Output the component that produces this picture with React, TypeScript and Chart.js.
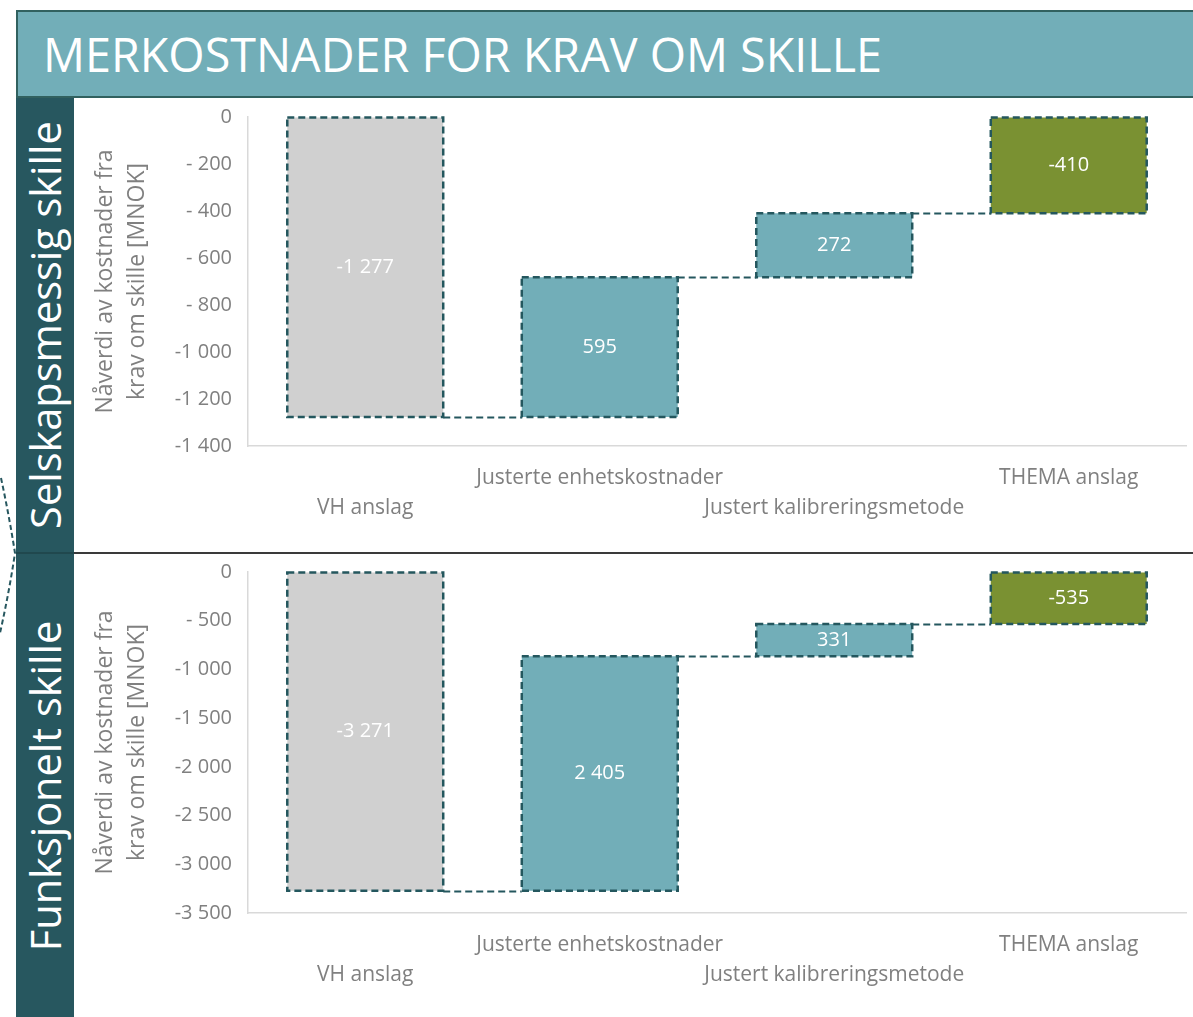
import React, { useEffect, useRef } from "react";
import { Chart, registerables } from "chart.js";

Chart.register(...registerables);

// ---------- data ----------
const titleText = "MERKOSTNADER FOR KRAV OM SKILLE";
const panelLabels = ["Selskapsmessig skille", "Funksjonelt skille"];
const categories = ["VH anslag", "Justerte enhetskostnader", "Justert kalibreringsmetode", "THEMA anslag"];
const yAxisTitle = ["Nåverdi av kostnader fra", "krav om skille [MNOK]"];

// first = start total, middle = changes, last = end total
const selskapValues = [-1277, 595, 272, -410];
const funksjonValues = [-3271, 2405, 331, -535];

const selskapYMin = -1400;
const selskapYStep = 200;
const funksjonYMin = -3500;
const funksjonYStep = 500;

// ---------- styles ----------
const FONT = "'Open Sans', 'DejaVu Sans', sans-serif";
const barColors = ["#D0D0D0", "#72AEB8", "#72AEB8", "#7A9132"];
const outlineColor = "#24575E";
const textGray = "#808080";
const axisLineColor = "#D9D9D9";

function group(n: number): string {
  return String(Math.round(Math.abs(n))).replace(/\B(?=(\d{3})+(?!\d))/g, " ");
}
function fmtValue(v: number): string {
  return (v < 0 ? "-" : "") + group(v);
}
function fmtTick(v: number): string {
  if (v === 0) return "0";
  const a = Math.abs(v);
  return a < 1000 ? "- " + group(a) : "-" + group(a);
}

function buildRanges(values: number[]): { ranges: [number, number][]; levels: number[] } {
  const ranges: [number, number][] = [];
  const levels: number[] = [];
  let running = 0;
  values.forEach((v, i) => {
    if (i === 0) {
      ranges.push([0, v]);
      running = v;
    } else if (i === values.length - 1) {
      ranges.push([v, 0]);
    } else {
      ranges.push([running, running + v]);
      running += v;
    }
    levels.push(running);
  });
  return { ranges, levels };
}

const waterfallPlugin = {
  id: "waterfallDecor",
  afterDatasetsDraw(chart: any) {
    const ctx = chart.ctx;
    const meta = chart.getDatasetMeta(0);
    const yScale = chart.scales.y;
    const values: number[] = chart.options.plugins.waterfallDecor.values;
    const levels: number[] = chart.options.plugins.waterfallDecor.levels;
    const rects = meta.data.map((el: any) => {
      const p = el.getProps(["x", "y", "base", "width"], true);
      return {
        left: p.x - p.width / 2,
        right: p.x + p.width / 2,
        top: Math.min(p.y, p.base),
        bottom: Math.max(p.y, p.base),
        cx: p.x,
      };
    });
    ctx.save();
    ctx.strokeStyle = outlineColor;
    ctx.setLineDash([7, 4]);
    // connectors
    ctx.lineWidth = 2.2;
    for (let i = 0; i < rects.length - 1; i++) {
      const yp = Math.round(yScale.getPixelForValue(levels[i])) + 0.5;
      ctx.beginPath();
      ctx.moveTo(rects[i].right, yp);
      ctx.lineTo(rects[i + 1].left, yp);
      ctx.stroke();
    }
    // outlines
    ctx.lineWidth = 2.5;
    rects.forEach((r: any) => {
      ctx.strokeRect(r.left, r.top, r.right - r.left, r.bottom - r.top);
    });
    ctx.setLineDash([]);
    // labels
    ctx.fillStyle = "#FFFFFF";
    ctx.font = `20px ${FONT}`;
    ctx.textAlign = "center";
    ctx.textBaseline = "middle";
    rects.forEach((r: any, i: number) => {
      ctx.fillText(fmtValue(values[i]), r.cx, (r.top + r.bottom) / 2);
    });
    ctx.restore();
  },
};

function makeConfig(values: number[], yMin: number, yStep: number, padTop: number, xHeight: number): any {
  const { ranges, levels } = buildRanges(values);
  return {
    type: "bar",
    data: {
      labels: categories,
      datasets: [
        {
          data: ranges,
          backgroundColor: barColors,
          borderWidth: 0,
          barPercentage: 0.665,
          categoryPercentage: 1,
        },
      ],
    },
    plugins: [waterfallPlugin],
    options: {
      animation: false,
      responsive: false,
      maintainAspectRatio: false,
      layout: { padding: { left: 0, top: padTop, right: 7, bottom: 0 } },
      plugins: {
        legend: { display: false },
        tooltip: { enabled: false },
        title: { display: false },
        waterfallDecor: { values, levels },
      },
      scales: {
        x: {
          offset: true,
          grid: { display: true, drawOnChartArea: false, drawTicks: false },
          border: { display: true, color: axisLineColor, width: 1.5 },
          ticks: {
            autoSkip: false,
            maxRotation: 0,
            minRotation: 0,
            padding: 17,
            color: textGray,
            font: { family: FONT, size: 21, lineHeight: 1.43 },
            callback: (_v: any, i: number) =>
              i % 2 === 0 ? ["", categories[i]] : [categories[i], ""],
          },
          afterFit: (s: any) => {
            s.height = xHeight;
          },
        },
        y: {
          min: yMin,
          max: 0,
          grid: { display: true, drawOnChartArea: false, drawTicks: false },
          border: { display: true, color: axisLineColor, width: 1.5 },
          ticks: {
            stepSize: yStep,
            padding: 16,
            color: textGray,
            font: { family: FONT, size: 20 },
            callback: (v: any) => fmtTick(Number(v)),
          },
          title: {
            display: true,
            text: yAxisTitle,
            color: textGray,
            font: { family: FONT, size: 23, lineHeight: 1.39 },
            padding: { top: 14, bottom: 0 },
          },
          afterFit: (s: any) => {
            s.width = 173;
          },
        },
      },
    },
  };
}

function WaterfallCanvas(props: {
  values: number[];
  yMin: number;
  yStep: number;
  padTop: number;
  xHeight: number;
  width: number;
  height: number;
  left: number;
  top: number;
}) {
  const ref = useRef<HTMLCanvasElement | null>(null);
  useEffect(() => {
    if (!ref.current) return;
    const chart = new Chart(
      ref.current,
      makeConfig(props.values, props.yMin, props.yStep, props.padTop, props.xHeight)
    );
    return () => chart.destroy();
  }, []);
  return (
    <canvas
      ref={ref}
      width={props.width}
      height={props.height}
      style={{
        position: "absolute",
        left: props.left,
        top: props.top,
        width: props.width,
        height: props.height,
      }}
    />
  );
}

function SideLabel(props: { text: string; cx: number; cy: number }) {
  const w = 450;
  const h = 58;
  return (
    <div
      style={{
        position: "absolute",
        left: props.cx - w / 2,
        top: props.cy - h / 2,
        width: w,
        height: h,
        transform: "rotate(-90deg)",
        transformOrigin: "50% 50%",
        color: "#FFFFFF",
        fontFamily: FONT,
        fontSize: 41.5,
        lineHeight: `${h}px`,
        textAlign: "center",
        whiteSpace: "nowrap",
      }}
    >
      {props.text}
    </div>
  );
}

export default function App() {
  return (
    <div
      style={{
        position: "fixed",
        left: 0,
        top: 0,
        width: 1193,
        height: 1017,
        overflow: "hidden",
        background: "#FFFFFF",
      }}
    >
      {/* title banner */}
      <div
        style={{
          position: "absolute",
          left: 16,
          top: 10,
          width: 1200,
          height: 88,
          boxSizing: "border-box",
          background: "#72AEB8",
          border: "2px solid #31615F",
          display: "flex",
          alignItems: "center",
          paddingLeft: 25,
          color: "#FFFFFF",
          fontFamily: FONT,
          fontSize: 46.7,
          fontWeight: 400,
          whiteSpace: "nowrap",
        }}
      >
        {titleText}
      </div>
      {/* sidebar */}
      <div
        style={{
          position: "absolute",
          left: 16,
          top: 98,
          width: 58,
          height: 930,
          background: "#27575F",
        }}
      />
      <div
        style={{
          position: "absolute",
          left: 16,
          top: 552,
          width: 58,
          height: 2,
          background: "#20484E",
        }}
      />
      {/* separator */}
      <div
        style={{
          position: "absolute",
          left: 74,
          top: 552,
          width: 1130,
          height: 1.5,
          background: "#3A3A3A",
        }}
      />
      <svg
        width={20}
        height={170}
        style={{ position: "absolute", left: 0, top: 475 }}
      >
        <path
          d="M 1 3 Q 9 40 15 78 Q 9 118 0 158"
          stroke="#27575F"
          strokeWidth={2}
          strokeDasharray="5 3"
          fill="none"
        />
      </svg>
      <SideLabel text={panelLabels[0]} cx={45} cy={325} />
      <SideLabel text={panelLabels[1]} cx={45} cy={786} />
      <WaterfallCanvas
        values={selskapValues}
        yMin={selskapYMin}
        yStep={selskapYStep}
        padTop={18}
        xHeight={106}
        width={1118}
        height={463}
        left={75}
        top={89}
      />
      <WaterfallCanvas
        values={funksjonValues}
        yMin={funksjonYMin}
        yStep={funksjonYStep}
        padTop={17}
        xHeight={104}
        width={1118}
        height={473}
        left={75}
        top={544}
      />
    </div>
  );
}
